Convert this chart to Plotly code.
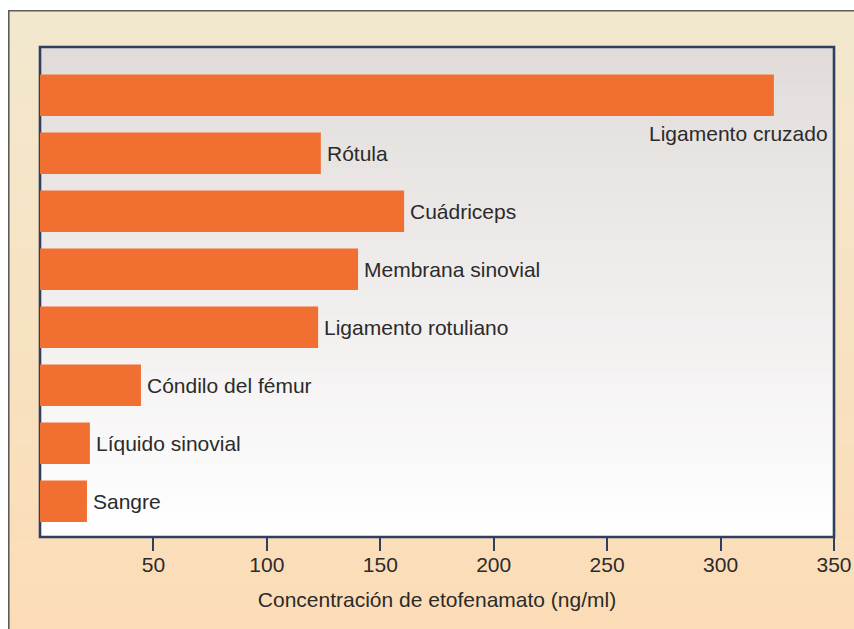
import plotly.graph_objects as go

# Data (top to bottom as in the chart)
categories = ["Ligamento cruzado", "Rótula", "Cuádriceps", "Membrana sinovial",
              "Ligamento rotuliano", "Cóndilo del fémur", "Líquido sinovial", "Sangre"]
values = [323.5, 123.8, 160.5, 140.2, 122.6, 44.5, 22.0, 20.7]
tick_vals = [50, 100, 150, 200, 250, 300, 350]
x_title = "Concentración de etofenamato (ng/ml)"

W, H = 854, 629
ML, MR, MT, MB = 40, 20, 47, 92
PW, PH = W - ML - MR, H - MT - MB

def px_x(p):
    return (p - ML) / PW

def px_y(p):
    return (H - MB - p) / PH

def lerp(c1, c2, t):
    return "rgb(%d,%d,%d)" % tuple(round(a + (b - a) * t) for a, b in zip(c1, c2))

shapes = []
# Outer gradient background (pixel coords)
N = 90
top_c, bot_c = (242, 232, 206), (252, 220, 182)
y0, y1 = 10.5, H + 10
for i in range(N):
    a = y0 + (y1 - y0) * i / N
    b = y0 + (y1 - y0) * (i + 1) / N + 0.6
    shapes.append(dict(type="rect", xref="paper", yref="paper", layer="below",
                       x0=px_x(8.5), x1=px_x(W + 10), y0=px_y(a), y1=px_y(b),
                       fillcolor=lerp(top_c, bot_c, i / (N - 1)), line=dict(width=0)))
# Outer frame line
shapes.append(dict(type="rect", xref="paper", yref="paper", layer="below",
                   x0=px_x(8.8), x1=px_x(W + 20), y0=px_y(10.8), y1=px_y(H + 20),
                   fillcolor="rgba(0,0,0,0)", line=dict(color="#5c5c5c", width=1.6)))
# Plot area gradient
ptop, pbot = (225, 220, 218), (255, 255, 255)
M = 80
for i in range(M):
    a = i / M
    b = min(1.0, (i + 1) / M + 0.002)
    shapes.append(dict(type="rect", xref="paper", yref="paper", layer="below",
                       x0=0, x1=1, y0=1 - b, y1=1 - a,
                       fillcolor=lerp(ptop, pbot, i / (M - 1)), line=dict(width=0)))
# Plot border
shapes.append(dict(type="rect", xref="paper", yref="paper", layer="below",
                   x0=0, x1=1, y0=0, y1=1,
                   fillcolor="rgba(0,0,0,0)", line=dict(color="#2e3f5f", width=2.6)))

fig = go.Figure(go.Bar(
    y=categories, x=values, orientation="h",
    marker=dict(color="#f26f32", line=dict(width=0)),
    width=0.715, hoverinfo="skip",
))

font = dict(family="Liberation Sans, Arial, sans-serif", size=21, color="#2b2b2b")
annotations = []
for c, v in zip(categories, values):
    if c == "Ligamento cruzado":
        annotations.append(dict(x=350, y=c, xref="x", yref="y", text=c, showarrow=False,
                                xanchor="right", yanchor="middle", xshift=-4, yshift=-38,
                                font=font))
    else:
        annotations.append(dict(x=v, y=c, xref="x", yref="y", text=c, showarrow=False,
                                xanchor="left", yanchor="middle", xshift=4,
                                font=font))

fig.update_layout(
    width=W, height=H,
    margin=dict(l=ML, r=MR, t=MT, b=MB, pad=0, autoexpand=False),
    paper_bgcolor="white", plot_bgcolor="rgba(0,0,0,0)",
    showlegend=False, shapes=shapes, annotations=annotations,
    font=font,
    xaxis=dict(range=[0, 350], tickvals=tick_vals, ticks="outside", ticklen=13,
               tickwidth=2, tickcolor="#2e3f5f", showgrid=False, zeroline=False,
               showline=False, tickfont=font, ticklabelstandoff=-4, automargin=False,
               title=dict(text=x_title, font=font, standoff=17)),
    yaxis=dict(categoryorder="array", categoryarray=categories[::-1],
               range=[-0.616, 7.833], showticklabels=False, ticks="", automargin=False,
               showgrid=False, zeroline=False, showline=False),
)

# Remove the default page margin so the 854x629 figure fills the window exactly
fig.write_html("out.html", config={"displayModeBar": False},
               post_script="document.body.style.margin='0';document.body.style.overflow='hidden';")
